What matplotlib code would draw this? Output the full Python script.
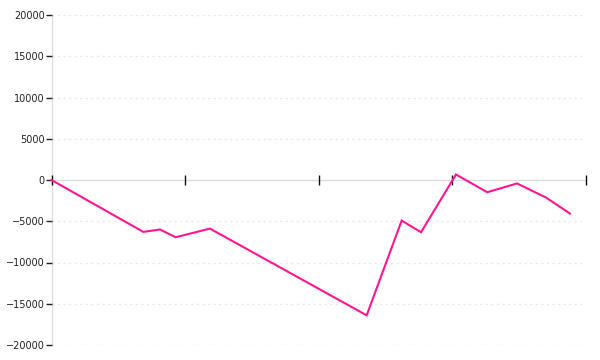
import matplotlib
matplotlib.use("Agg")
import matplotlib.pyplot as plt

# x positions in units of the (unlabelled) x-axis tick interval
x_pos = [0.0, 0.688, 0.813, 0.930, 1.187, 2.361, 2.623, 2.768, 3.030, 3.264, 3.487, 3.704, 3.884]
values = [0, -6290, -6000, -6940, -5890, -16400, -4920, -6330, 670, -1480, -420, -2120, -4070]
y_ticks = [-20000, -15000, -10000, -5000, 0, 5000, 10000, 15000, 20000]
x_ticks = [0, 1, 2, 3, 4]

fig = plt.figure(figsize=(6, 3.6), dpi=100)
ax = fig.add_axes([51.5 / 600, 15 / 360, (585.5 - 51.5) / 600, (345 - 15) / 360])

ax.plot(x_pos, values, color="#ff1493", linewidth=1.5, solid_joinstyle="miter",
        clip_on=False, zorder=3)

ax.set_xlim(0, 4)
ax.set_ylim(-20000, 20000)
ax.set_yticks(y_ticks)
ax.set_yticklabels([str(v).replace("-", "\u2212") for v in y_ticks])
ax.set_xticks(x_ticks)
ax.set_xticklabels([])

for s in ("top", "right"):
    ax.spines[s].set_visible(False)
ax.spines["left"].set_color("#dddddd")
ax.spines["bottom"].set_color("#dddddd")
ax.spines["bottom"].set_position(("data", 0))
ax.spines["left"].set_linewidth(1)
ax.spines["bottom"].set_linewidth(1)
ax.spines["left"].set_zorder(0.5)
ax.spines["bottom"].set_zorder(0.5)

ax.tick_params(axis="y", direction="out", length=4, width=1, color="#222222",
               labelsize=7, labelcolor="#222222", pad=1)
ax.tick_params(axis="x", direction="inout", length=6.5, width=1, color="#111111")

for yv in y_ticks:
    if yv != 0:
        ax.axhline(yv, color="#e8e8e8", linewidth=1, linestyle=(0, (1.5, 2.5)), zorder=0)

fig.savefig("out.png", dpi=100)
